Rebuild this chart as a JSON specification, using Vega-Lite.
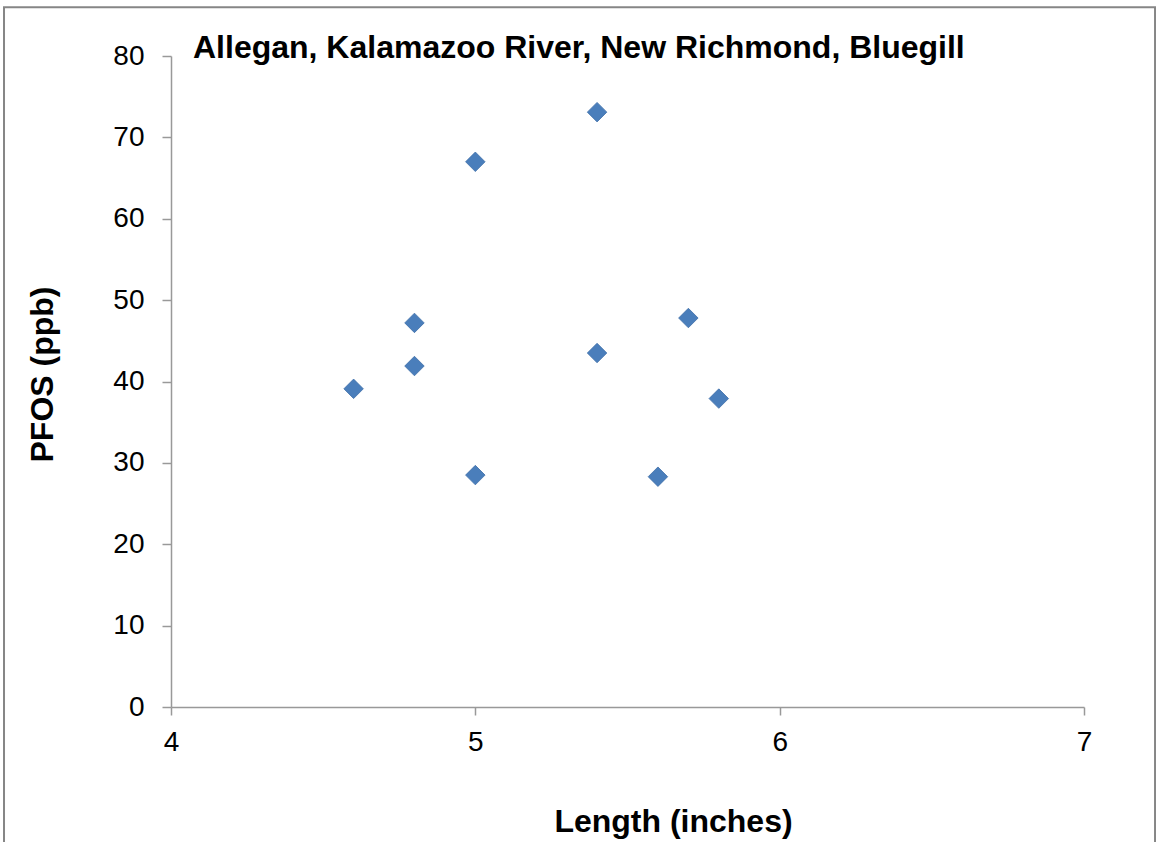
{
  "$schema": "https://vega.github.io/schema/vega-lite/v6.json",
  "autosize": {"type": "none"},
  "width": 913,
  "height": 651,
  "padding": {"left": 171, "top": 56, "right": 72, "bottom": 135},
  "background": "white",
  "config": {
    "view": {"stroke": null},
    "font": "Liberation Sans"
  },
  "title": {
    "text": "Allegan, Kalamazoo River, New Richmond, Bluegill",
    "anchor": "start",
    "frame": "group",
    "dx": 22,
    "offset": -84,
    "baseline": "alphabetic",
    "fontSize": 32,
    "fontWeight": "bold",
    "font": "Liberation Sans",
    "color": "black"
  },
  "data": {
    "values": [
      {"length": 4.6, "pfos": 39.1},
      {"length": 4.8, "pfos": 47.2},
      {"length": 4.8, "pfos": 41.9},
      {"length": 5.0, "pfos": 67.0},
      {"length": 5.0, "pfos": 28.5},
      {"length": 5.4, "pfos": 73.1},
      {"length": 5.4, "pfos": 43.5},
      {"length": 5.6, "pfos": 28.3},
      {"length": 5.7, "pfos": 47.8},
      {"length": 5.8, "pfos": 37.9}
    ]
  },
  "layer": [
    {
      "transform": [{"filter": "datum.length == 4.6"}],
      "mark": {"type": "rect", "fill": null, "filled": false, "stroke": "#868686", "strokeWidth": 2, "clip": false},
      "encoding": {
        "x": {"datum": 3.4513, "type": "quantitative"},
        "x2": {"datum": 7.2334},
        "y": {"datum": 86.0, "type": "quantitative"},
        "y2": {"datum": -18}
      }
    },
    {
      "mark": {"type": "point", "shape": "diamond", "filled": true, "size": 380, "color": "#4a7ebb", "stroke": "#3f6fa8", "strokeWidth": 0.8, "opacity": 1},
      "encoding": {
        "x": {"field": "length", "type": "quantitative"},
        "y": {"field": "pfos", "type": "quantitative"}
      }
    }
  ],
  "encoding": {
    "x": {
      "field": "length", "type": "quantitative",
      "scale": {"domain": [4, 7], "nice": false, "zero": false},
      "axis": {
        "title": "Length (inches)", "values": [4, 5, 6, 7], "grid": false,
        "domainColor": "#999999", "domainWidth": 1.5, "tickColor": "#999999", "tickWidth": 1.5, "tickSize": 8,
        "labelFontSize": 28, "labelColor": "black", "labelPadding": 13, "labelFlush": false,
        "titleFontSize": 32, "titleFontWeight": "bold", "titleColor": "black", "titlePadding": 50,
        "titleX": 502, "titleAlign": "center"
      }
    },
    "y": {
      "field": "pfos", "type": "quantitative",
      "scale": {"domain": [0, 80], "nice": false},
      "axis": {
        "title": "PFOS (ppb)", "values": [0, 10, 20, 30, 40, 50, 60, 70, 80], "grid": false,
        "domainColor": "#999999", "domainWidth": 1.5, "tickColor": "#999999", "tickWidth": 1.5, "tickSize": 9,
        "labelFontSize": 28, "labelColor": "black", "labelPadding": 18, "labelFlush": false,
        "titleFontSize": 32, "titleFontWeight": "bold", "titleColor": "black", "titlePadding": 53,
        "titleY": 318, "titleAlign": "center"
      }
    }
  }
}
